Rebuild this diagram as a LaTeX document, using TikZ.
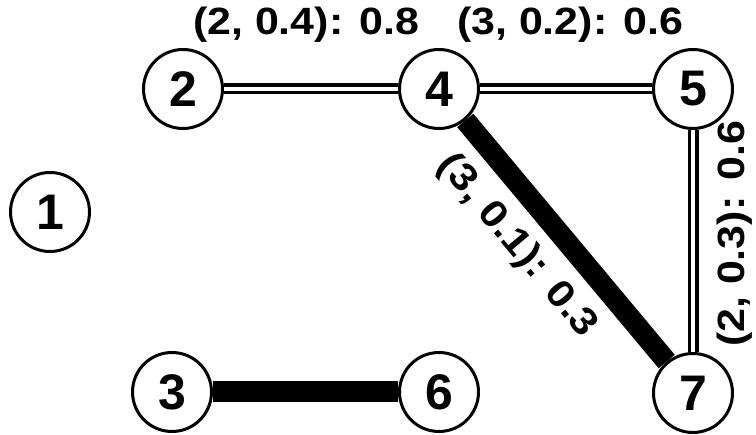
\documentclass[tikz,border=0pt]{standalone}
\usepackage{fontspec}
\setmainfont{Liberation Sans}
\begin{document}
\begin{tikzpicture}[x=1pt,y=-1pt,
  vtx/.style={circle,draw,line width=3pt,fill=white,minimum size=79pt,inner sep=0pt,
    font=\fontsize{50}{50}\selectfont\bfseries},
  dbl/.style={double,draw=black,line width=3.5pt,double distance=4pt},
  heavy/.style={draw=black,line width=21pt},
  lbl/.style={inner sep=0pt,font=\fontsize{38}{38}\selectfont\bfseries}]
\useasboundingbox[fill=white] (0,0) rectangle (756,435);
\node[vtx] (n1) at (50,212) {1};
\node[vtx] (n2) at (183,89) {2};
\node[vtx] (n4) at (439,89) {4};
\node[vtx] (n5) at (693,89) {5};
\node[vtx] (n3) at (172,392) {3};
\node[vtx] (n6) at (439,392) {6};
\node[vtx] (n7) at (693,393) {7};
\draw[dbl] (n2) -- (n4);
\draw[dbl] (n4) -- (n5);
\draw[dbl] (n5) -- (n7);
\draw[heavy] (n4) -- (n7);
\draw[heavy] (n3) -- (n6);
\node[lbl] (l24) at (306,25) {\scalebox{1.13}[1]{(2, 0.4): 0.8}};
\node[lbl] (l45) at (570,25) {\scalebox{1.13}[1]{(3, 0.2): 0.6}};
\node[lbl,rotate=-50] (l47) at (517,246) {\scalebox{1.13}[1]{(3, 0.1): 0.3}};
\node[lbl,rotate=90] (l57) at (735,234) {\scalebox{1.13}[1]{(2, 0.3): 0.6}};
\end{tikzpicture}
\end{document}
